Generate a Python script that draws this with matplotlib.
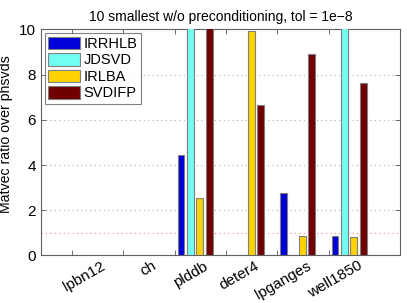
import numpy as np
import matplotlib
matplotlib.use("Agg")
import matplotlib.pyplot as plt

plt.rcParams['font.family'] = ['Liberation Sans', 'DejaVu Sans']

# data
categories = ["lpbn12", "ch", "plddb", "deter4", "lpganges", "well1850"]
methods = ["IRRHLB", "JDSVD", "IRLBA", "SVDIFP"]
irrhlb = [np.nan, np.nan, 4.43, np.nan, 2.74, 0.85]
jdsvd = [np.nan, np.nan, 12.0, np.nan, np.nan, 12.0]
irlba = [np.nan, np.nan, 2.56, 9.92, 0.85, 0.81]
svdifp = [np.nan, np.nan, 10.3, 6.66, 8.90, 7.62]
yticks = [0, 2, 4, 6, 8, 10]

colors = ["#0000d8", "#70fff0", "#ffd200", "#700000"]
series = [irrhlb, jdsvd, irlba, svdifp]
offsets = [-0.274, -0.0915, 0.0915, 0.274]

fig = plt.figure(figsize=(4.07, 3.03), dpi=100)
ax = fig.add_axes([0.1007, 0.157, 0.8833, 0.746])

x = np.arange(1, len(categories) + 1)
for vals, c, off, name in zip(series, colors, offsets, methods):
    ax.bar(x + off, vals, width=0.133, color=c, edgecolor="#7f7f7f",
           linewidth=0.8, label=name, zorder=3)

ax.set_xlim(0, 7)
ax.set_ylim(0, 10)

# grid lines at y ticks, red reference line at 1
for yv in [2, 4, 6, 8]:
    ax.axhline(yv, color="#b0b0b0", linestyle=(0, (1, 3)), linewidth=0.8, zorder=1)
ax.axhline(1, color="#ff8080", linestyle=(0, (1, 3)), linewidth=0.8, zorder=1)

ax.set_yticks(yticks)
ax.set_yticklabels([str(v) for v in yticks], fontsize=11)
ax.set_xticks(x - 0.4)
ax.set_xticklabels([])
ax.tick_params(direction="in", length=3.5, top=True, right=True,
               color="#555555", width=0.6)
for sp in ax.spines.values():
    sp.set_color("#606060")
    sp.set_linewidth(0.8)

# rotated category labels
for xi, lab in zip(x, categories):
    ax.text(xi + 0.16, -0.15, lab, rotation=30, ha="right", va="top",
            rotation_mode="anchor", fontsize=11,
            transform=ax.transData, clip_on=False)

ax.set_ylabel("Matvec ratio over phsvds", fontsize=10.2)
ax.yaxis.set_label_coords(-0.077, 0.535)
ax.set_title("10 smallest w/o preconditioning, tol = 1e\u22128", fontsize=10, pad=6)

leg = ax.legend(loc="upper left", fontsize=10.5, frameon=True, fancybox=False,
                borderaxespad=0.25, handlelength=2.2, handleheight=0.95,
                handletextpad=0.2, labelspacing=0.15, borderpad=0.25)
leg.get_frame().set_edgecolor("#606060")
leg.get_frame().set_linewidth(0.8)

plt.savefig("out.png", dpi=100)
